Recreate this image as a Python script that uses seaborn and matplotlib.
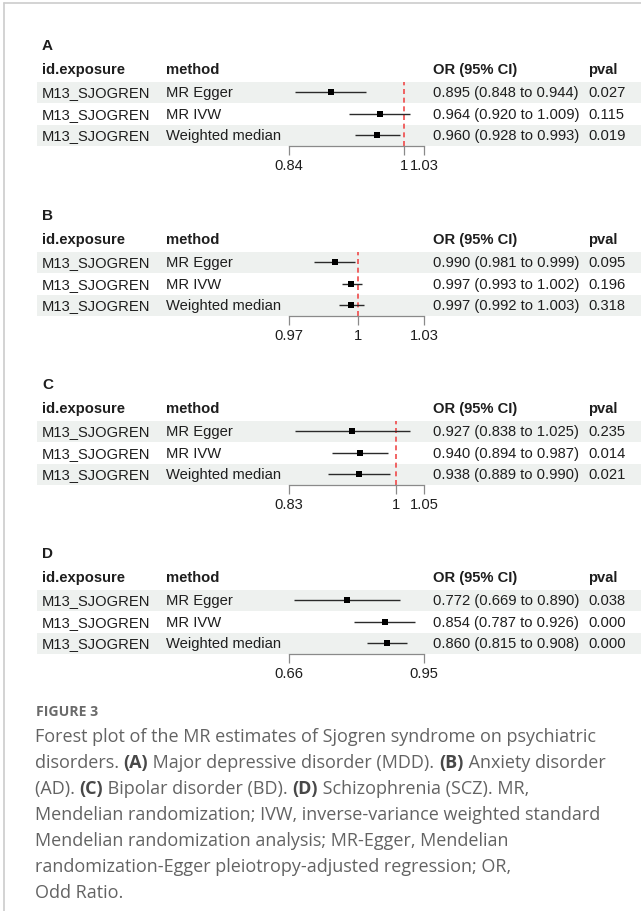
import numpy as np
import pandas as pd
import matplotlib
matplotlib.use("Agg")
import matplotlib.pyplot as plt
import seaborn as sns
from matplotlib.ticker import NullLocator

sns.set_theme(style="white")
plt.rcParams['font.family'] = ['Liberation Sans', 'DejaVu Sans']

# ---------------- data ----------------
exposure = "M13_SJOGREN"
methods = ["MR Egger", "MR IVW", "Weighted median"]
panel_labels = ["A", "B", "C", "D"]

or_A = [0.895, 0.964, 0.960]
lo_A = [0.848, 0.920, 0.928]
hi_A = [0.944, 1.009, 0.993]
p_A = ["0.027", "0.115", "0.019"]
ticks_A = [0.84, 1, 1.03]
ticklabels_A = ["0.84", "1", "1.03"]

or_B = [0.990, 0.997, 0.997]
lo_B = [0.981, 0.993, 0.992]
hi_B = [0.999, 1.002, 1.003]
p_B = ["0.095", "0.196", "0.318"]
ticks_B = [0.97, 1, 1.03]
ticklabels_B = ["0.97", "1", "1.03"]

or_C = [0.927, 0.940, 0.938]
lo_C = [0.838, 0.894, 0.889]
hi_C = [1.025, 0.987, 0.990]
p_C = ["0.235", "0.014", "0.021"]
ticks_C = [0.83, 1, 1.05]
ticklabels_C = ["0.83", "1", "1.05"]

or_D = [0.772, 0.854, 0.860]
lo_D = [0.669, 0.787, 0.815]
hi_D = [0.890, 0.926, 0.908]
p_D = ["0.038", "0.000", "0.000"]
ticks_D = [0.66, 0.95]
ticklabels_D = ["0.66", "0.95"]

headers = ["id.exposure", "method", "OR (95% CI)", "pval"]

caption_title = "FIGURE 3"
caption_lines = [
    [("Forest plot of the MR estimates of Sjogren syndrome on psychiatric", False)],
    [("disorders. ", False), ("(A)", True), (" Major depressive disorder (MDD). ", False),
     ("(B)", True), (" Anxiety disorder", False)],
    [("(AD). ", False), ("(C)", True), (" Bipolar disorder (BD). ", False), ("(D)", True),
     (" Schizophrenia (SCZ). MR,", False)],
    [("Mendelian randomization; IVW, inverse-variance weighted standard", False)],
    [("Mendelian randomization analysis; MR-Egger, Mendelian", False)],
    [("randomization-Egger pleiotropy-adjusted regression; OR,", False)],
    [("Odd Ratio.", False)],
]

panels = [
    (or_A, lo_A, hi_A, p_A, ticks_A, ticklabels_A),
    (or_B, lo_B, hi_B, p_B, ticks_B, ticklabels_B),
    (or_C, lo_C, hi_C, p_C, ticks_C, ticklabels_C),
    (or_D, lo_D, hi_D, p_D, ticks_D, ticklabels_D),
]

# ---------------- layout ----------------
W, H = 641, 912
fig = plt.figure(figsize=(W / 100, H / 100), dpi=100)
bg = fig.add_axes([0, 0, 1, 1])
bg.set_xlim(0, W)
bg.set_ylim(H, 0)
bg.axis("off")

# frame lines
bg.plot([4, W], [4, 4], color="#cccccc", lw=1.2)
bg.plot([4, 4], [4, H], color="#cccccc", lw=1.2)

TXT = "#1e1e1e"
FS = 10.6
band_color = "#eef1ef"
col_x = [42, 166, 433, 588]
fx0, fx1 = 289, 424
header_y = [70, 240, 409, 578]
row_h = 21.5

for k, (est, lo, hi, pv, ticks, tlabels) in enumerate(panels):
    hy = header_y[k]
    top = hy + 12.5
    bg.text(col_x[0], hy - 24, panel_labels[k], fontsize=FS + 0.4, fontweight="bold",
            color=TXT, va="center", ha="left")
    for cx, h in zip(col_x, headers):
        bg.text(cx, hy, h, fontsize=FS, fontweight="bold", color=TXT, va="center", ha="left")
    for i in range(3):
        yc = top + row_h * (i + 0.5)
        if i % 2 == 0:
            bg.add_patch(plt.Rectangle((37, top + row_h * i), W - 37, row_h,
                                       color=band_color, lw=0, zorder=0))
        bg.text(col_x[0], yc, exposure, fontsize=FS, color=TXT, va="center", ha="left")
        bg.text(col_x[1], yc, methods[i], fontsize=FS, color=TXT, va="center", ha="left")
        bg.text(col_x[2], yc, f"{est[i]:.3f} ({lo[i]:.3f} to {hi[i]:.3f})",
                fontsize=FS, color=TXT, va="center", ha="left")
        bg.text(col_x[3], yc, pv[i], fontsize=FS, color=TXT, va="center", ha="left")

    # forest axes
    ax = fig.add_axes([fx0 / W, 1 - (top + 3 * row_h) / H, (fx1 - fx0) / W, 3 * row_h / H])
    ax.set_facecolor("none")
    df = pd.DataFrame({"method": methods, "est": est, "lo": lo, "hi": hi, "row": [0, 1, 2]})
    ax.hlines(df["row"], df["lo"], df["hi"], color="#2a2a2a", lw=1.0, zorder=2)
    sns.scatterplot(data=df, x="est", y="row", marker="s", s=24, color="black",
                    edgecolor="black", linewidth=0, ax=ax, legend=False, zorder=3)
    ax.set_xscale("log")
    ax.set_xlim(ticks[0], ticks[-1])
    ax.set_ylim(2.5, -0.5)
    if ticks[0] <= 1 <= ticks[-1]:
        ax.axvline(1, color="#f04a4a", ls=(0, (3, 2.2)), lw=1.2, zorder=1)
    for s in ["left", "right", "top"]:
        ax.spines[s].set_visible(False)
    ax.spines["bottom"].set_color("#8a8a8a")
    ax.spines["bottom"].set_linewidth(0.9)
    ax.set_xticks(ticks)
    ax.set_xticklabels(tlabels)
    ax.xaxis.set_minor_locator(NullLocator())
    ax.set_yticks([])
    ax.tick_params(axis="x", direction="out", length=6.5, width=0.9, color="#8a8a8a",
                   labelsize=FS, labelcolor=TXT, pad=2, bottom=True)
    ax.set_xlabel("")
    ax.set_ylabel("")

# ---------------- caption ----------------
cap_family = ["Open Sans", "DejaVu Sans"]
cap_color = "#636363"
cap_fs = 13.0
bg.text(36, 712, caption_title, fontsize=10.1, fontweight="bold", family=cap_family,
        color="#6a6a6a", va="center", ha="left")

fig.canvas.draw()
r = fig.canvas.get_renderer()


def text_w(s, bold):
    t = bg.text(0, 0, s, fontsize=cap_fs, family=cap_family,
                fontweight="bold" if bold else "normal")
    w = t.get_window_extent(renderer=r).width
    t.remove()
    return w


space_w = {b: text_w("a a", b) - text_w("aa", b) for b in (False, True)}

for li, segs in enumerate(caption_lines):
    x = 35
    y = 737 + li * 26
    for s, bold in segs:
        bg.text(x, y, s, fontsize=cap_fs, family=cap_family,
                fontweight="bold" if bold else "normal",
                color="#484848" if bold else cap_color, va="center", ha="left")
        core = s.strip(" ")
        lead = len(s) - len(s.lstrip(" "))
        trail = len(s) - len(s.rstrip(" "))
        x += text_w(core, bold) + (lead + trail) * space_w[bold]

fig.savefig("out.png", dpi=100)
